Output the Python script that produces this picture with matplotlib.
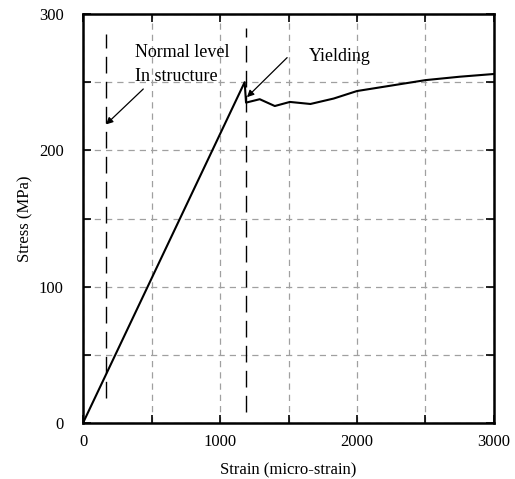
import numpy as np
import matplotlib
matplotlib.use('Agg')
from matplotlib import pyplot as plt
from matplotlib.ticker import MultipleLocator

plt.rcParams['font.family'] = ['Liberation Serif', 'DejaVu Serif']

# stress-strain curve
strain = [0, 1180, 1190, 1290, 1400, 1510, 1660, 1830, 2000, 2250, 2500, 2750, 3000]
stress = [0, 250, 235, 237.5, 232.5, 235.5, 234, 238, 243.5, 247.5, 251.5, 254, 256]

# marker lines (strain, bottom, top)
normal_x, normal_y0, normal_y1 = 168, 18, 285
yield_x, yield_y0, yield_y1 = 1190, 8, 290

fig = plt.figure(figsize=(5.15, 4.79), dpi=100)
ax = fig.add_axes([83 / 515, 1 - 423 / 479, 411 / 515, 409 / 479])

ax.plot(strain, stress, color='black', lw=1.5)

ax.plot([normal_x, normal_x], [normal_y0, normal_y1], color='black', lw=1.0,
        dashes=(12, 6))
ax.plot([yield_x, yield_x], [yield_y0, yield_y1], color='black', lw=1.0,
        dashes=(12, 6))

ax.set_xlim(0, 3000)
ax.set_ylim(0, 300)
ax.set_xticks([0, 500, 1000, 1500, 2000, 2500, 3000])
ax.set_xticklabels(['0', '', '1000', '', '2000', '', '3000'])
ax.set_yticks([0, 50, 100, 150, 200, 250, 300])
ax.set_yticklabels(['0', '', '100', '', '200', '', '300'])
ax.tick_params(direction='in', length=6, width=1.2, top=True, right=True,
               labelsize=12)
ax.tick_params(axis='y', pad=14)
ax.tick_params(axis='x', pad=8)
ax.grid(True, color='#a0a0a0', ls=(0, (5, 4)), lw=0.9)
for s in ax.spines.values():
    s.set_linewidth(1.8)

ax.annotate('', xy=(168, 219), xytext=(440, 245),
            arrowprops=dict(arrowstyle='-|>', color='black', lw=0.9,
                            mutation_scale=10, shrinkA=0, shrinkB=0))
ax.annotate('', xy=(1197, 239), xytext=(1490, 268),
            arrowprops=dict(arrowstyle='-|>', color='black', lw=0.9,
                            mutation_scale=10, shrinkA=0, shrinkB=0))
ax.text(380, 272, 'Normal level', fontsize=13, ha='left', va='center')
ax.text(380, 254.5, 'In structure', fontsize=13, ha='left', va='center')
ax.text(1650, 268.5, 'Yielding', fontsize=13, ha='left', va='center')

ax.set_xlabel('Strain (micro-strain)', fontsize=12, labelpad=9)
ax.set_ylabel('Stress (MPa)', fontsize=12, labelpad=4)

fig.savefig('out.png', dpi=100)
